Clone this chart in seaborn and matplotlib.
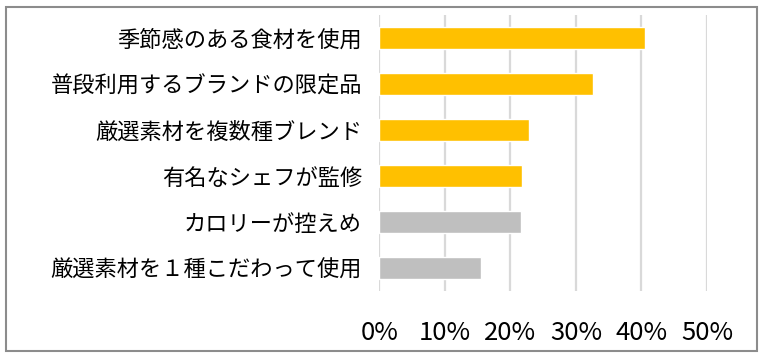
import pandas as pd
import seaborn as sns
import matplotlib.pyplot as plt
from matplotlib.ticker import PercentFormatter
from matplotlib.patches import Rectangle

categories = ['季節感のある食材を使用', '普段利用するブランドの限定品', '厳選素材を複数種ブレンド',
              '有名なシェフが監修', 'カロリーが控えめ', '厳選素材を１種こだわって使用']
values = [40.6, 32.6, 22.9, 21.8, 21.6, 15.5]
colors = ['#FFC000', '#FFC000', '#FFC000', '#FFC000', '#BFBFBF', '#BFBFBF']

df = pd.DataFrame({'item': categories, 'pct': values})

sns.set_style('white')
plt.rcParams['font.family'] = ['Noto Sans CJK JP', 'DejaVu Sans']

fig = plt.figure(figsize=(7.68, 3.58), dpi=100)
ax = fig.add_axes([0.4939, 0.187, 0.4267, 0.771])

sns.barplot(data=df, x='pct', y='item', hue='item', palette=colors, legend=False,
            orient='h', width=0.46, saturation=1, ax=ax)

ax.set_xlim(0, 50)
ax.set_ylim(5.5, -0.5)
ax.set_xticks(range(0, 51, 10))
ax.xaxis.set_major_formatter(PercentFormatter(decimals=0))
ax.grid(axis='x', color='#D9D9D9', linewidth=1.6)
ax.set_axisbelow(True)
for s in ax.spines.values():
    s.set_visible(False)
ax.set_xlabel('')
ax.set_ylabel('')
ax.tick_params(axis='x', length=0, pad=21, labelsize=18.5, labelcolor='black')
ax.tick_params(axis='y', length=0, pad=12.5, labelsize=16, labelcolor='black')

fig.patches.append(Rectangle((6 / 768, 7 / 358), 751 / 768, 344 / 358, transform=fig.transFigure,
                             fill=False, edgecolor='#8C8C8C', linewidth=1.5))

fig.savefig('out.png', dpi=100)
